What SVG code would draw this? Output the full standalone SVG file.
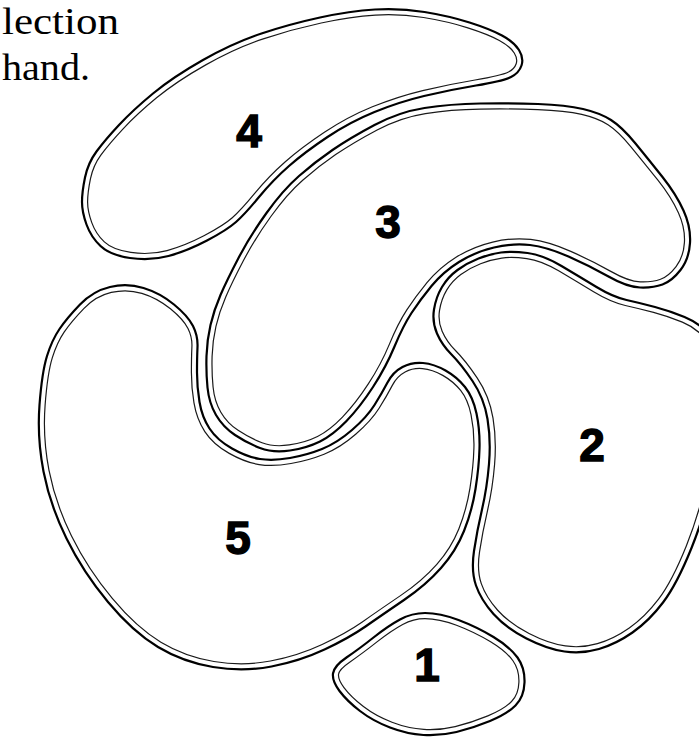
<svg xmlns="http://www.w3.org/2000/svg" xmlns:xlink="http://www.w3.org/1999/xlink" width="699" height="743" viewBox="0 0 699 743">
<style>
.bg{fill:#fff}
.fill{fill:#fff;stroke:none}
.band{fill:none;stroke:#1a1a1a;stroke-width:12.4}
.gap{fill:none;stroke:#fff;stroke-width:10}
.outer{fill:none;stroke:#000;stroke-width:2.2;stroke-linejoin:round}
.num{font-family:"Liberation Sans",Arial,sans-serif;font-weight:bold;font-size:46px;fill:#000;stroke:#000;stroke-width:1.4;text-anchor:middle}
.cap{font-family:"Liberation Serif","Times New Roman",serif;font-size:38px;fill:#000}
</style>
<defs>
<path id="p1" d="M425,613 Q440,613 458.5,620 T493.5,637 T517.5,657.5 T524.5,682.5 T515.5,705.5 T490,721 T456.5,732 T423.5,735 T390,727.5 T360,711 T339.5,691 T333,673.5 T346.5,657.5 T373.5,637.5 T400,619.5 T425,613 Z"/>
<path id="p2" d="M434,309.5 Q436,297 442,287 T457.5,270 T478.5,258.5 T501,252.5 T527.5,253 T561.5,266 T596.5,287 T626.5,300 T655,307 T684.5,317 T708.5,334 T720,387.5 T714,471 T691.5,548 T663,602.5 T632.5,632.5 T599,649 T564.5,651.5 T526.5,638.5 T493.5,614 T476,585.5 T474,551 T482,509.5 T489,464 T487.5,419 T472.5,381 T451.5,354.5 T437,333.5 T434,309.5 Z"/>
<path id="p3" d="M206.5,356 Q207,340 210.5,325 T220.5,295 T238.5,258 T266.5,213 T299,176 T332.5,150 T374.5,125 T424.5,108 T480,103.5 T538,104 T583,109 T611,120 T635.5,143.5 T662.5,177 T683.5,210.5 T690,243 T680.5,270 T662.5,284.5 T640,287.5 T608.5,276.5 T568.5,256.5 T530,245 T494,247.5 T459,262 T431.5,286 T411.5,313 T394.5,346.5 T373,387 T346.5,421 T320,441.5 T290,450.5 T260,448 T235,435 T216,415 T207.5,387.5 T206.5,356 Z"/>
<path id="p4" d="M85,177.5 Q88,163 96.5,151.5 T119,125 T153,93.5 T203,60 T261.5,33.5 T320,17.5 T375,9.5 T424.5,12 T469.5,22.5 T502,35.5 T519,50 T521.5,65.5 T511,77 T476,85.5 T424,96 T374.5,112 T327.5,137 T289,166 T259,197 T236,222 T207,240.5 T168.5,256 T130,258 T100.5,246 T86.5,224.5 T82,202 T85,177.5 Z"/>
<path id="p5" d="M197.5,347 Q197,358 197,372.5 T199.5,402 T209.5,428.5 T232,448.5 T260,459 T290,458 T322,449 T352,430 T374.5,405 T387.5,382.5 T402.5,367 T423,363 T445.5,370.5 T465,387 T476.5,413.5 T479.5,448.5 T475.5,489 T464,531 T441,568 T404,600 T365.5,626.5 T324.5,649.5 T271.5,666.5 T213,667 T158,647 T108,602 T66.5,538.5 T43.5,471.5 T39.5,405 T47,356 T59.5,329 T80,304.5 T110,287 T143.5,288 T174,304.5 T193,326 T197.5,347 Z"/>
<clipPath id="c1"><use href="#p1" xlink:href="#p1"/></clipPath>
<clipPath id="c2"><use href="#p2" xlink:href="#p2"/></clipPath>
<clipPath id="c3"><use href="#p3" xlink:href="#p3"/></clipPath>
<clipPath id="c4"><use href="#p4" xlink:href="#p4"/></clipPath>
<clipPath id="c5"><use href="#p5" xlink:href="#p5"/></clipPath>
</defs>
<rect class="bg" x="0" y="0" width="699" height="743"/>
<g id="caption">
<text class="cap" x="2" y="34" textLength="117" lengthAdjust="spacingAndGlyphs">lection</text>
<text class="cap" x="2" y="80" textLength="88" lengthAdjust="spacingAndGlyphs">hand.</text>
</g>
<g id="connectors"/>
<g id="node-4">
<use href="#p4" xlink:href="#p4" class="fill"/>
<g clip-path="url(#c4)"><use href="#p4" xlink:href="#p4" class="band"/><use href="#p4" xlink:href="#p4" class="gap"/></g>
<use href="#p4" xlink:href="#p4" class="outer"/>
<text class="num" x="249" y="147">4</text>
</g>
<g id="node-3">
<use href="#p3" xlink:href="#p3" class="fill"/>
<g clip-path="url(#c3)"><use href="#p3" xlink:href="#p3" class="band"/><use href="#p3" xlink:href="#p3" class="gap"/></g>
<use href="#p3" xlink:href="#p3" class="outer"/>
<text class="num" x="388" y="238">3</text>
</g>
<g id="node-2">
<use href="#p2" xlink:href="#p2" class="fill"/>
<g clip-path="url(#c2)"><use href="#p2" xlink:href="#p2" class="band"/><use href="#p2" xlink:href="#p2" class="gap"/></g>
<use href="#p2" xlink:href="#p2" class="outer"/>
<text class="num" x="592" y="461">2</text>
</g>
<g id="node-5">
<use href="#p5" xlink:href="#p5" class="fill"/>
<g clip-path="url(#c5)"><use href="#p5" xlink:href="#p5" class="band"/><use href="#p5" xlink:href="#p5" class="gap"/></g>
<use href="#p5" xlink:href="#p5" class="outer"/>
<text class="num" x="238" y="554">5</text>
</g>
<g id="node-1">
<use href="#p1" xlink:href="#p1" class="fill"/>
<g clip-path="url(#c1)"><use href="#p1" xlink:href="#p1" class="band"/><use href="#p1" xlink:href="#p1" class="gap"/></g>
<use href="#p1" xlink:href="#p1" class="outer"/>
<text class="num" x="427" y="681">1</text>
</g>
</svg>
